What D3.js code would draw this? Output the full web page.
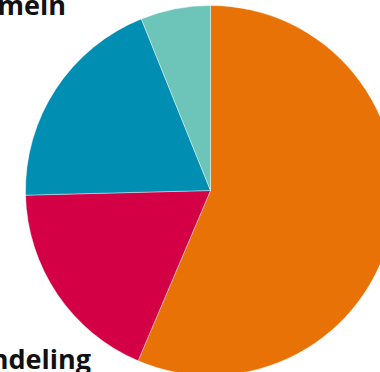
<!DOCTYPE html>
<html>
<head>
<meta charset="utf-8">
<script src="https://cdn.jsdelivr.net/npm/d3@7"></script>
<style>
  body { margin: 0; background: #fff; }
  svg { display: block; }
</style>
</head>
<body>
<div id="chart"></div>
<script>
// slice values, clockwise from 12 o'clock
const categories = ["A", "Behandeling", "Allgemein", "D"];
const values = [56.4, 18.2, 19.3, 6.1];
const colors = ["#e87206", "#d40045", "#008fb3", "#6dc5b9"];

// labels visible in the frame (the rest falls outside)
const labelNames = ["Allgemein", "Behandeling"];

let width = 380,
    height = 372,
    cx = 210.5,
    cy = 190.5,
    radius = 185;

let svg = d3.select("#chart")
  .append("svg")
  .attr("width", width)
  .attr("height", height);

let g = svg.append("g").attr("transform", "translate(" + cx + "," + cy + ")");

let pie = d3.pie().sort(null).value(function(d) { return d; });
let arc = d3.arc().innerRadius(0).outerRadius(radius);

g.selectAll("path")
  .data(pie(values))
  .enter().append("path")
    .attr("d", arc)
    .attr("fill", function(d, i) { return colors[i]; })
    .attr("stroke", "#ffffff")
    .attr("stroke-width", 0.4);

// labels, anchored at their right end
svg.append("text")
  .attr("x", 66)
  .attr("y", 15)
  .attr("text-anchor", "end")
  .style("font-family", "'Open Sans', sans-serif")
  .style("font-weight", 700)
  .style("font-size", "27px")
  .attr("fill", "#111")
  .text(labelNames[0]);

svg.append("text")
  .attr("x", 91)
  .attr("y", 369)
  .attr("text-anchor", "end")
  .style("font-family", "'Open Sans', sans-serif")
  .style("font-weight", 700)
  .style("font-size", "27px")
  .attr("fill", "#111")
  .text(labelNames[1]);
</script>
</body>
</html>
